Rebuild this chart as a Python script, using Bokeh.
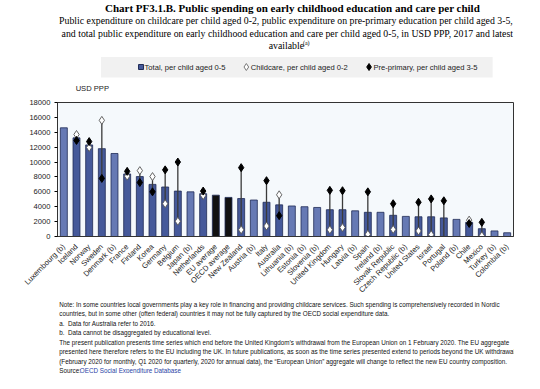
import math
from bokeh.plotting import figure
from bokeh.layouts import column
from bokeh.models import ColumnDataSource, FactorRange, FixedTicker, Range1d
from bokeh.core.properties import value
from bokeh.embed import file_html
from bokeh.resources import INLINE

countries = ["Luxembourg (b)", "Iceland", "Norway", "Sweden", "Denmark (b)", "France", "Finland",
             "Korea", "Germany", "Belgium", "Japan (b)", "Netherlands", "EU average", "OECD average",
             "New Zealand", "Austria (b)", "Italy", "Australia", "Lithuania (b)", "Estonia (b)",
             "Slovenia (b)", "United Kingdom", "Hungary", "Latvia (b)", "Spain", "Ireland (b)",
             "Slovak Republic", "Czech Republic (b)", "United States", "Israel", "Portugal",
             "Poland (b)", "Chile", "Mexico", "Turkey (b)", "Colombia (b)"]
total = [14600, 13250, 12300, 11800, 11150, 8400, 8050, 7000, 6650, 6100, 6000, 5750, 5550, 5250,
         5100, 4900, 4600, 4250, 4100, 4000, 3900, 3600, 3600, 3450, 3250, 3250, 2850, 2700, 2650,
         2650, 2500, 2300, 1900, 1050, 750, 500]
childcare = [None, 13700, 11950, 15600, None, 8100, 8850, 8050, 4400, 2050, None, 5500, None, None,
             900, None, 1400, 5600, None, None, None, 900, 1200, None, 300, None, 950, None, 750,
             250, None, None, 2200, 100, None, None]
preprimary = [None, 12900, 12750, 7800, None, 8750, 7250, 6000, 8950, 10000, None, 6100, None, None,
              9250, None, 7500, 2800, None, None, None, 6200, 6150, None, 6000, None, 4400, None, 4600,
              5050, 4800, None, 1750, 1900, None, None]
y_ticks = [0, 2000, 4000, 6000, 8000, 10000, 12000, 14000, 16000, 18000]

title = "Chart PF3.1.B. Public spending on early childhood education and care per child"
subtitle = ["Public expenditure on childcare per child aged 0-2, public expenditure on pre-primary education per child aged 3-5,",
            "and total public expenditure on early childhood education and care per child aged 0-5, in USD PPP, 2017 and latest",
            "available"]
legend_labels = ["Total, per child aged 0-5", "Childcare, per child aged 0-2", "Pre-primary, per child aged 3-5"]
notes = ["Note: In some countries local governments play a key role in financing and providing childcare services. Such spending is comprehensively recorded in Nordic",
         "countries, but in some other (often federal) countries it may not be fully captured by the OECD social expenditure data.",
         "a.\u00a0\u00a0Data for Australia refer to 2016.",
         "b.\u00a0\u00a0Data cannot be disaggregated by educational level.",
         "The present publication presents time series which end before the United Kingdom\u2019s withdrawal from the European Union on 1 February 2020. The EU aggregate",
         "presented here therefore refers to the EU including the UK. In future publications, as soon as the time series presented extend to periods beyond the UK withdrawal",
         "(February 2020 for monthly, Q1 2020 for quarterly, 2020 for annual data), the \u201cEuropean Union\u201d aggregate will change to reflect the new EU country composition."]
source_prefix = "Source: "
source_link = "OECD Social Expenditure Database"

NaN = float("nan")
cc = [NaN if v is None else v for v in childcare]
pp = [NaN if v is None else v for v in preprimary]
seg_lo = [NaN if b is None else min(a or 0, b) for a, b in zip(childcare, preprimary)]
seg_hi = [NaN if b is None else max(a or 0, b) for a, b in zip(childcare, preprimary)]
DARK, LIGHT = "#45599a", "#6679b4"
colors = ["#111111" if "average" in c else (DARK if p is not None else LIGHT)
          for c, p in zip(countries, preprimary)]

src = ColumnDataSource(dict(x=countries, total=total, cc=cc, pp=pp, lo=seg_lo, hi=seg_hi, color=colors))

# picture geometry (canvas pixel = picture pixel)
W = 524
HEAD_TOP, HEAD_BOT = 0, 95
MAIN_BOT = 300
FOOT_BOT = 373
FL, FR, FT, FB = 57, 513, 102, 239   # plot frame edges


def blank(top, bot):
    f = figure(width=W, height=bot - top, x_range=Range1d(0, W), y_range=Range1d(bot, top),
               output_backend="svg", toolbar_location=None, min_border=0,
               x_axis_location=None, y_axis_location=None, outline_line_color=None)
    f.xgrid.grid_line_color = None
    f.ygrid.grid_line_color = None
    return f


def txt(f, t, x, y, size, font="Liberation Sans", bold=False, align="left", color="#222222"):
    f.text(x=[x], y=[y], text=[t], text_font=value(font), text_font_size=value(f"{size}px"),
           text_font_style="bold" if bold else "normal", text_align=align,
           text_baseline="middle", text_color=color)


# ---------- header ----------
head = blank(HEAD_TOP, HEAD_BOT)
SERIF = "Liberation Serif"
txt(head, title, 270, 7.5, 11, font=SERIF, bold=True, align="center", color="black")
txt(head, subtitle[0], 262.5, 20, 9.8, font=SERIF, align="center", color="black")
txt(head, subtitle[1], 264, 32.5, 9.8, font=SERIF, align="center", color="black")
txt(head, subtitle[2], 263, 45, 9.8, font=SERIF, align="center", color="black")
txt(head, "(a)", 282, 42.5, 6, font=SERIF, color="black")
head.quad(left=[50], right=[500], top=[56.5], bottom=[77], fill_color="#f1f1f1", line_color=None)
head.scatter(x=[96], y=[66.5], marker="square", size=5, fill_color=DARK, line_color="#1f2b55")
txt(head, legend_labels[0], 100, 66.5, 7.6)
head.scatter(x=[217], y=[66.5], marker="diamond", size=7, fill_color="white", line_color="#777777")
txt(head, legend_labels[1], 222, 66.5, 7.6)
head.scatter(x=[358], y=[66.5], marker="diamond", size=7, fill_color="black", line_color="black")
txt(head, legend_labels[2], 363, 66.5, 7.6)
txt(head, "USD PPP", 40, 88, 7.6, align="center")

# ---------- main chart ----------
p = figure(width=W, height=MAIN_BOT - HEAD_BOT, x_range=FactorRange(*countries), y_range=(0, 18000),
           output_backend="svg", toolbar_location=None,
           min_border_left=FL, min_border_right=W - FR,
           min_border_top=FT - HEAD_BOT, min_border_bottom=MAIN_BOT - FB,
           background_fill_color="#f5f9fc", border_fill_color="white", outline_line_color="#333333")

p.vbar(x="x", top="total", width=0.55, source=src, fill_color="color", line_color="#1f2b55", line_width=0.8)
p.segment(x0="x", y0="lo", x1="x", y1="hi", source=src, line_color="#3a3a3a", line_width=1.3)
p.scatter(x="x", y="cc", source=src, marker="diamond", size=8, fill_color="white", line_color="#555555", line_width=0.9)
p.scatter(x="x", y="pp", source=src, marker="diamond", size=8, fill_color="black", line_color="black")

p.xgrid.grid_line_color = None
p.ygrid.grid_line_color = None
p.yaxis.ticker = FixedTicker(ticks=y_ticks)
p.yaxis.minor_tick_line_color = None
p.yaxis.major_tick_out = 3
p.yaxis.major_tick_in = 0
p.yaxis.major_label_standoff = 4
p.yaxis.axis_line_color = "#333333"
p.xaxis.axis_line_color = "#333333"
p.xaxis.major_tick_line_color = None
p.xaxis.major_label_orientation = math.pi / 4
p.xaxis.major_label_standoff = 3
for ax in (p.xaxis, p.yaxis):
    ax.major_label_text_font = "Liberation Sans"
    ax.major_label_text_font_size = "7.6px"
    ax.major_label_text_color = "#222222"

# ---------- footer ----------
foot = blank(MAIN_BOT, FOOT_BOT)
NS = 6.3
y0 = 303.5
step = 9.5
for i, t in enumerate(notes):
    txt(foot, t, 2, y0 + i * step, NS, color="#111111")
ys = y0 + 7 * step
txt(foot, source_prefix, 2, ys, NS, color="#111111")
lx = 2 + 3.75 * NS
txt(foot, source_link, lx, ys, NS, color="#2b44a6")
foot.segment(x0=[lx], x1=[lx + 16.1 * NS], y0=[ys + 3.4], y1=[ys + 3.4], line_color="#2b44a6", line_width=0.8)

layout = column(head, p, foot, spacing=0)
open("out.html", "w").write(file_html(layout, INLINE))
